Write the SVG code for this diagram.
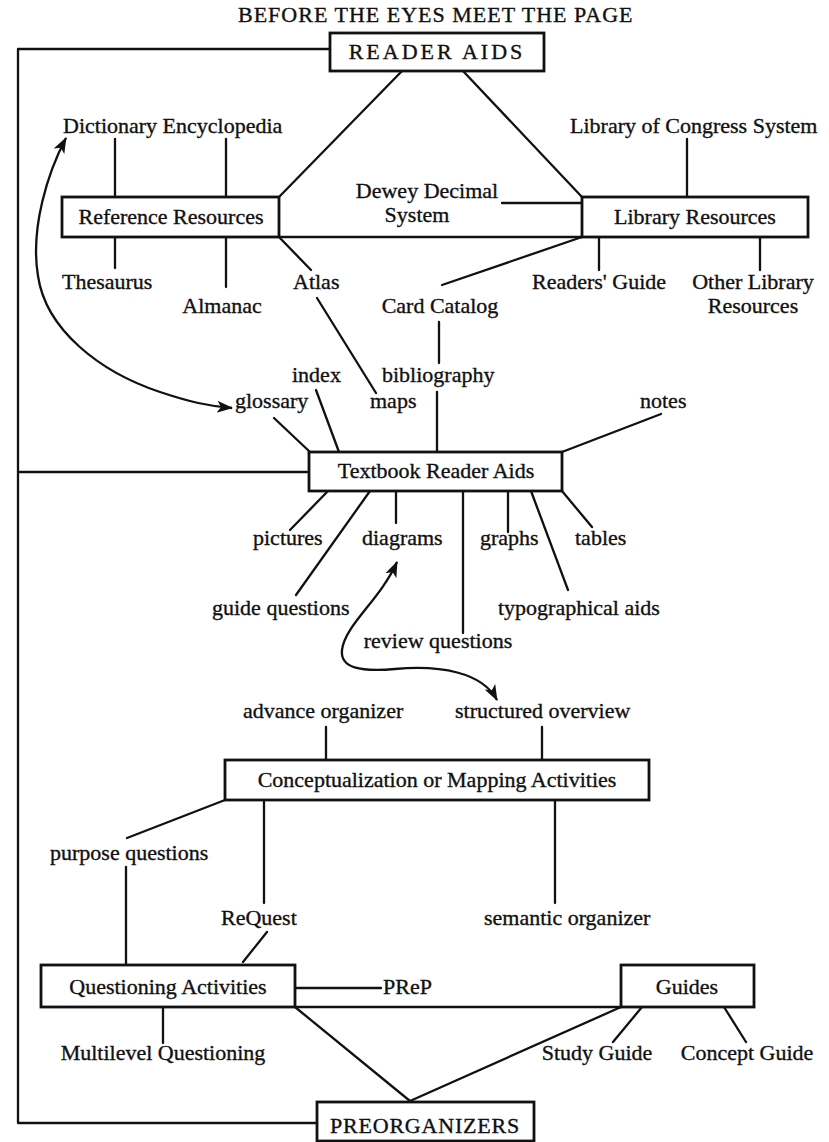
<svg xmlns="http://www.w3.org/2000/svg" width="829" height="1142" viewBox="0 0 829 1142">
  <style>
    .t { font-family: "Liberation Serif", "Times New Roman", serif; font-size: 22px; fill: #111; stroke: #111; stroke-width: 0.35px; }
    .c { text-anchor: middle; }
    .box { fill: #fff; stroke: #111; stroke-width: 2.8; }
    .ln { fill: none; stroke: #111; stroke-width: 2.3; stroke-linecap: round; stroke-linejoin: round; }
    .arr { fill: none; stroke: #111; stroke-width: 2.3; marker-start: url(#head); marker-end: url(#head); }
  </style>
  <defs>
    <marker id="head" markerUnits="userSpaceOnUse" markerWidth="18" markerHeight="14" refX="15" refY="7" orient="auto-start-reverse">
      <path d="M0,1 L16,7 L0,13 L4,7 Z" fill="#111"/>
    </marker>
  </defs>
  <rect width="829" height="1142" fill="#fff"/>

  <text id="title" class="t" x="238" y="22" letter-spacing="1">BEFORE THE EYES MEET THE PAGE</text>

  <!-- connectors -->
  <g id="connectors">
    <!-- outer loop on the left -->
    <polyline class="ln" points="330,49 18,49 18,1123 317,1123"/>
    <line class="ln" x1="18" y1="472" x2="309" y2="472"/>
    <!-- reader aids to the two resource boxes -->
    <line class="ln" x1="402" y1="71" x2="279" y2="197"/>
    <line class="ln" x1="463" y1="71" x2="582" y2="197"/>
    <line class="ln" x1="115" y1="139" x2="115" y2="197"/>
    <line class="ln" x1="226" y1="139" x2="226" y2="197"/>
    <line class="ln" x1="687" y1="139" x2="687" y2="197"/>
    <line class="ln" x1="502" y1="203" x2="582" y2="203"/>
    <line class="ln" x1="279" y1="237" x2="582" y2="237"/>
    <line class="ln" x1="115" y1="237" x2="115" y2="268"/>
    <line class="ln" x1="226" y1="237" x2="226" y2="287"/>
    <line class="ln" x1="279" y1="237" x2="311" y2="270"/>
    <line class="ln" x1="582" y1="237" x2="442" y2="285"/>
    <line class="ln" x1="599" y1="237" x2="599" y2="270"/>
    <line class="ln" x1="760" y1="237" x2="760" y2="270"/>
    <line class="ln" x1="317" y1="298" x2="376" y2="393"/>
    <line class="ln" x1="439" y1="322" x2="439" y2="363"/>
    <!-- textbook reader aids spokes -->
    <line class="ln" x1="437" y1="392" x2="437" y2="452"/>
    <line class="ln" x1="316" y1="390" x2="339" y2="452"/>
    <line class="ln" x1="274" y1="418" x2="310" y2="452"/>
    <line class="ln" x1="661" y1="414" x2="562" y2="452"/>
    <line class="ln" x1="328" y1="491" x2="290" y2="530"/>
    <line class="ln" x1="370" y1="491" x2="296" y2="595"/>
    <line class="ln" x1="396" y1="491" x2="396" y2="523"/>
    <line class="ln" x1="463" y1="491" x2="463" y2="633"/>
    <line class="ln" x1="508" y1="491" x2="508" y2="532"/>
    <line class="ln" x1="531" y1="491" x2="568" y2="590"/>
    <line class="ln" x1="562" y1="491" x2="592" y2="527"/>
    <!-- two-way curved arrows -->
    <path class="arr" d="M66,138 C48,172 30,228 38,276 C46,330 100,372 160,392 C190,402 208,406 232,408"/>
    <path class="arr" d="M397,562 C380,600 345,625 342,650 C340,668 360,672 395,669 C440,665 482,672 497,700"/>
    <!-- mapping activities -->
    <line class="ln" x1="326" y1="727" x2="326" y2="760"/>
    <line class="ln" x1="542" y1="727" x2="542" y2="760"/>
    <line class="ln" x1="225" y1="800" x2="127" y2="838"/>
    <line class="ln" x1="264" y1="800" x2="264" y2="903"/>
    <line class="ln" x1="555" y1="800" x2="555" y2="903"/>
    <line class="ln" x1="126" y1="867" x2="126" y2="965"/>
    <line class="ln" x1="267" y1="932" x2="243" y2="962"/>
    <!-- questioning and guides -->
    <line class="ln" x1="295" y1="988" x2="381" y2="988"/>
    <line class="ln" x1="295" y1="1007" x2="621" y2="1007"/>
    <line class="ln" x1="295" y1="1007" x2="410" y2="1101"/>
    <line class="ln" x1="621" y1="1007" x2="410" y2="1101"/>
    <line class="ln" x1="163" y1="1007" x2="163" y2="1043"/>
    <line class="ln" x1="642" y1="1007" x2="613" y2="1042"/>
    <line class="ln" x1="724" y1="1007" x2="746" y2="1042"/>
  </g>

  <g id="reader-aids">
    <rect class="box" x="330" y="33" width="214" height="38"/>
    <text class="t c" x="437" y="59" letter-spacing="3">READER AIDS</text>
  </g>
  <g id="reference-resources">
    <rect class="box" x="62" y="197" width="217" height="40"/>
    <text class="t c" x="171" y="224">Reference Resources</text>
  </g>
  <g id="library-resources">
    <rect class="box" x="582" y="197" width="226" height="40"/>
    <text class="t c" x="695" y="224">Library Resources</text>
  </g>
  <g id="textbook-reader-aids">
    <rect class="box" x="309" y="452" width="253" height="39"/>
    <text class="t c" x="436" y="478">Textbook Reader Aids</text>
  </g>
  <g id="mapping-activities">
    <rect class="box" x="225" y="760" width="424" height="40"/>
    <text class="t c" x="437" y="787">Conceptualization or Mapping Activities</text>
  </g>
  <g id="questioning-activities">
    <rect class="box" x="41" y="965" width="254" height="42"/>
    <text class="t c" x="168" y="994">Questioning Activities</text>
  </g>
  <g id="guides">
    <rect class="box" x="621" y="965" width="133" height="42"/>
    <text class="t c" x="687" y="994">Guides</text>
  </g>
  <g id="preorganizers">
    <rect class="box" x="317" y="1102" width="217" height="39"/>
    <text class="t c" x="425" y="1133" letter-spacing="0.8">PREORGANIZERS</text>
  </g>

  <g id="dictionary"><text class="t" x="63" y="133">Dictionary Encyclopedia</text></g>
  <g id="library-of-congress"><text class="t" x="570" y="133">Library of Congress System</text></g>
  <g id="dewey"><text class="t c" x="427" y="198">Dewey Decimal</text><text class="t c" x="417" y="222">System</text></g>
  <g id="thesaurus"><text class="t" x="62" y="289">Thesaurus</text></g>
  <g id="almanac"><text class="t c" x="222" y="313">Almanac</text></g>
  <g id="atlas"><text class="t" x="293" y="289">Atlas</text></g>
  <g id="card-catalog"><text class="t c" x="440" y="313">Card Catalog</text></g>
  <g id="readers-guide"><text class="t" x="532" y="289">Readers' Guide</text></g>
  <g id="other-library"><text class="t c" x="753" y="289">Other Library</text><text class="t c" x="753" y="313">Resources</text></g>
  <g id="index"><text class="t" x="292" y="382">index</text></g>
  <g id="bibliography"><text class="t" x="382" y="382">bibliography</text></g>
  <g id="glossary"><text class="t" x="235" y="408">glossary</text></g>
  <g id="maps"><text class="t" x="370" y="408">maps</text></g>
  <g id="notes"><text class="t" x="640" y="408">notes</text></g>
  <g id="pictures"><text class="t" x="253" y="545">pictures</text></g>
  <g id="diagrams"><text class="t" x="362" y="545">diagrams</text></g>
  <g id="graphs"><text class="t" x="480" y="545">graphs</text></g>
  <g id="tables"><text class="t" x="575" y="545">tables</text></g>
  <g id="guide-questions"><text class="t" x="212" y="615">guide questions</text></g>
  <g id="typographical-aids"><text class="t" x="498" y="615">typographical aids</text></g>
  <g id="review-questions"><text class="t c" x="438" y="648">review questions</text></g>
  <g id="advance-organizer"><text class="t" x="243" y="718">advance organizer</text></g>
  <g id="structured-overview"><text class="t" x="455" y="718">structured overview</text></g>
  <g id="purpose-questions"><text class="t" x="50" y="860">purpose questions</text></g>
  <g id="request"><text class="t" x="221" y="925">ReQuest</text></g>
  <g id="semantic-organizer"><text class="t" x="484" y="925">semantic organizer</text></g>
  <g id="prep"><text class="t" x="383" y="994">PReP</text></g>
  <g id="multilevel-questioning"><text class="t c" x="163" y="1060">Multilevel Questioning</text></g>
  <g id="study-guide"><text class="t c" x="597" y="1060">Study Guide</text></g>
  <g id="concept-guide"><text class="t c" x="747" y="1060">Concept Guide</text></g>
</svg>
